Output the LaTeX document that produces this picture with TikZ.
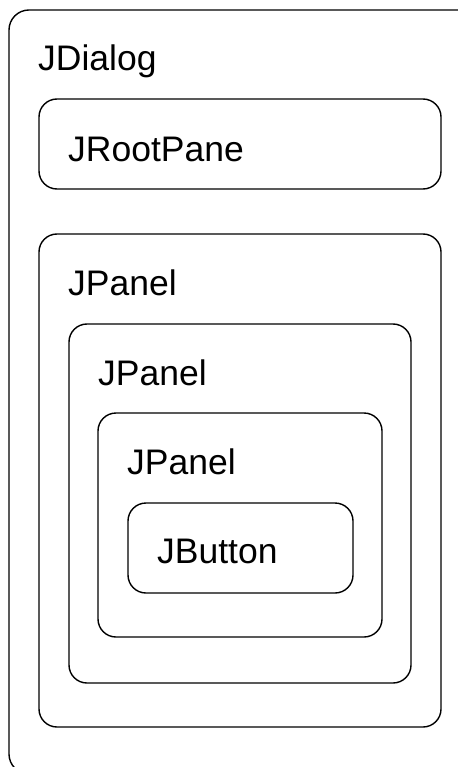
\documentclass[tikz,border=0pt]{standalone}
\usepackage{fontspec}
\setmainfont{Liberation Sans}
\begin{document}
\begin{tikzpicture}[x=1bp,y=-1bp,
  panel/.style={draw=black, line width=1.4bp, rounded corners=18bp,
    inner sep=0pt, outer sep=0pt, fill=none},
  caption/.style={anchor=base west, inner sep=0pt,
    font=\fontsize{35.5bp}{42bp}\selectfont}]
\useasboundingbox (0,0) rectangle (458,767);
\clip (0,0) rectangle (458,767);
% nested container boxes: name/x1/y1/x2/y2/corner radius
\foreach \n/\xa/\ya/\xb/\yb/\r in {dialog/9/10/478/774/20, root/39/99/441/189/18,
    outerpanel/39/234/441/727/18, midpanel/69/324/411/683/18,
    innerpanel/98/413/382/637/18, button/128/503/353/593/18}{
  \pgfmathsetmacro\w{\xb-\xa}
  \pgfmathsetmacro\h{\yb-\ya}
  \node[panel, rounded corners=\r bp, minimum width=\w bp, minimum height=\h bp]
    (\n) at ({(\xa+\xb)/2},{(\ya+\yb)/2}) {};
}
\node[caption] (dialoglbl) at ([xshift=29bp,yshift=-61bp]dialog.north west) {JDialog};
\node[caption] (rootlbl) at ([xshift=29bp,yshift=-62bp]root.north west) {JRootPane};
\node[caption] (outerlbl) at ([xshift=29bp,yshift=-61bp]outerpanel.north west) {JPanel};
\node[caption] (midlbl) at ([xshift=29bp,yshift=-61bp]midpanel.north west) {JPanel};
\node[caption] (innerlbl) at ([xshift=29bp,yshift=-61bp]innerpanel.north west) {JPanel};
\node[caption] (buttonlbl) at ([xshift=29bp,yshift=-60bp]button.north west) {JButton};
\end{tikzpicture}
\end{document}
